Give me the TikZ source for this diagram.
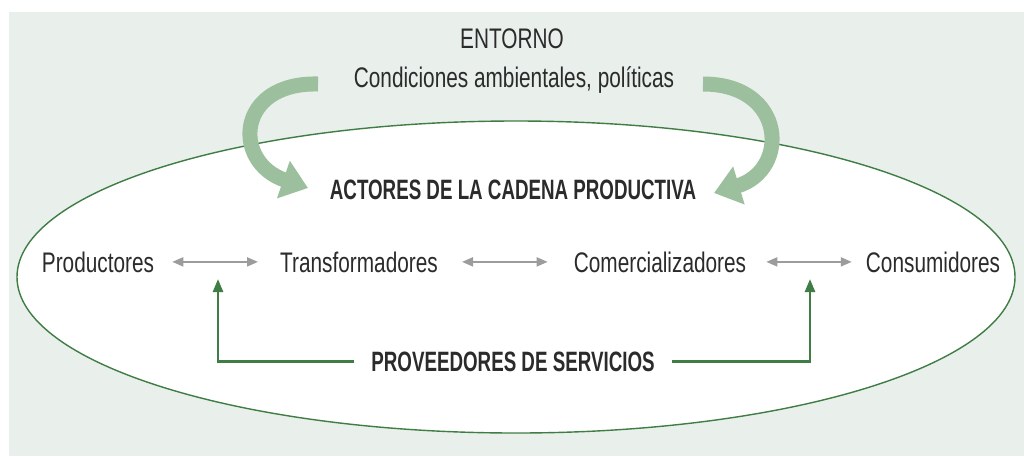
\documentclass[tikz,border=0pt]{standalone}
\usepackage{fontspec}
\newfontfamily\condfont[FakeStretch=0.735]{Liberation Sans}
\newfontfamily\condbold[FakeStretch=0.67]{Liberation Sans}
\usetikzlibrary{arrows.meta}
\definecolor{bgcol}{HTML}{E9EFEB}
\definecolor{txtcol}{HTML}{2B2B2B}
\definecolor{graycol}{HTML}{9C9C9C}
\definecolor{dkgreen}{HTML}{3F7D45}
\definecolor{ltgreen}{HTML}{9CBF9D}
\begin{document}
\begin{tikzpicture}[x=1pt,y=-1pt,
  lbl/.style={font=\condfont\fontsize{28.3}{30}\selectfont, text=txtcol, inner sep=0pt, anchor=base},
  hdr/.style={font=\condbold\bfseries\fontsize{28}{30}\selectfont, text=txtcol, inner ysep=0pt, anchor=base},
  grayarrow/.style={draw=graycol, line width=1.8pt, {Triangle[length=11pt,width=9pt]}-{Triangle[length=11pt,width=9pt]}},
  greenarrow/.style={draw=dkgreen, line width=2.5pt, -{Triangle[length=13pt,width=10pt]}},
  bigarrow/.style={draw=ltgreen, line width=15pt, -{Triangle[length=26pt,width=38pt]}},
  ringstyle/.style={draw=dkgreen, line width=1.4pt, fill=white}
]
\useasboundingbox (0,0) rectangle (1024,456);
\fill[bgcol] (9,12) rectangle (1024,456);
\draw[ringstyle] (516,277) ellipse [x radius=499pt, y radius=156pt];

% top texts
\node[lbl] (entorno) at (512,48) {ENTORNO};
\node[lbl] (cond) at (514,87) {Condiciones ambientales, políticas};
\node[hdr, inner xsep=0pt] (actores) at (513,199) {ACTORES DE LA CADENA PRODUCTIVA};

% big curved arrows
\coordinate (lstart) at (318,84);
\coordinate (lend) at (308,188);
\coordinate (rstart) at (703,84);
\coordinate (rend) at (714,193);
\draw[bigarrow] (lstart) .. controls (236,82) and (232,162) .. (lend);
\draw[bigarrow] (rstart) .. controls (786,84) and (790,170) .. (rend);

% row of actors
\node[lbl] (prod) at (98,272) {Productores};
\node[lbl] (trans) at (359,272) {Transformadores};
\node[lbl] (comer) at (660,272) {Comercializadores};
\node[lbl] (cons) at (933,272) {Consumidores};

\draw[grayarrow, shorten <=18pt, shorten >=22pt] (prod.east) -- (trans.west);
\draw[grayarrow, shorten <=24pt, shorten >=26pt] (trans.east) -- (comer.west);
\draw[grayarrow, shorten <=20pt, shorten >=14pt] (comer.east) -- (cons.west);

% service providers
\node[hdr, inner xsep=17pt] (prov) at (513,371) {PROVEEDORES DE SERVICIOS};
\coordinate (tipL) at (218,279);
\coordinate (tipR) at (810,279);
\draw[greenarrow] (prov.west) -| (tipL);
\draw[greenarrow] (prov.east) -| (tipR);
\end{tikzpicture}
\end{document}
